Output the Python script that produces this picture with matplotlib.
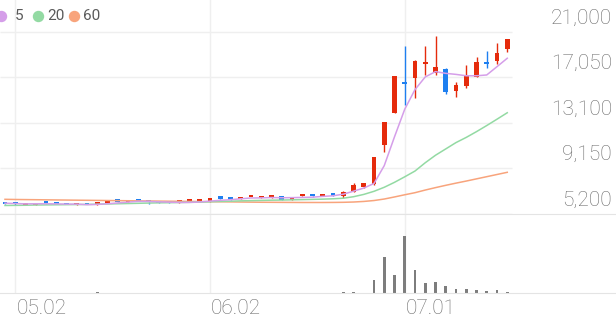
import matplotlib
matplotlib.use("Agg")
import matplotlib.pyplot as plt
from matplotlib.lines import Line2D
import numpy as np

# 일봉 데이터 (04.30 ~ 07.15)
open_ = [6180, 6120, 5980, 6000, 6170, 6100, 6010, 5990, 6000, 6000,
         6190, 6330, 6250, 6350, 6230, 6200, 6210, 6200, 6270, 6290,
         6270, 6590, 6680, 6500, 6660, 6600, 6640, 6740, 6400, 6740,
         6760, 6760, 6960, 6800, 7140, 7570, 7800, 11190, 13940, 16600,
         16980, 18180, 17410, 17760, 15880, 16310, 17130, 18420, 18490, 19520]
high = [6200, 6140, 6040, 6190, 6180, 6110, 6020, 6060, 6010, 6240,
        6320, 6340, 6380, 6360, 6260, 6210, 6220, 6260, 6380, 6340,
        6610, 6600, 6690, 6670, 6710, 6650, 6690, 6750, 6690, 6920,
        6770, 6810, 6970, 7160, 7870, 7930, 10180, 13220, 17210, 19780,
        18530, 19780, 20650, 17900, 16690, 18130, 18800, 19350, 20020, 20370]
low = [6060, 6020, 5970, 5990, 6100, 6030, 5940, 5960, 5940, 5990,
       6120, 6270, 6240, 6290, 6050, 6140, 6150, 6190, 6260, 6280,
       6260, 6530, 6440, 6490, 6650, 6590, 6630, 6390, 6390, 6730,
       6710, 6750, 6790, 6620, 7130, 7480, 7750, 10610, 13930, 14660,
       15260, 17270, 17270, 15620, 15380, 16110, 17050, 17850, 18200, 19290]
close = [6080, 6040, 6020, 6180, 6110, 6040, 5950, 6010, 5950, 6230,
         6310, 6280, 6370, 6300, 6200, 6150, 6160, 6250, 6290, 6330,
         6600, 6540, 6450, 6660, 6700, 6640, 6680, 6400, 6680, 6770,
         6720, 6800, 6800, 7150, 7720, 7920, 10170, 13210, 17200, 16500,
         18520, 18260, 17930, 15820, 16400, 17220, 18380, 18220, 19150, 20360]

ma5 = [6140, 6110, 6080, 6090, 6090, 6080, 6060, 6060, 6010, 6030,
       6090, 6160, 6230, 6300, 6290, 6260, 6230, 6200, 6210, 6240,
       6320, 6390, 6440, 6520, 6590, 6600, 6630, 6610, 6620, 6640,
       6660, 6730, 6780, 6920, 7180, 7450, 7850, 9400, 11900, 14300,
       16000, 17100, 17560, 17410, 17320, 17200, 17200, 17270, 17990, 18720]
ma20 = [5940, 5950, 5960, 5980, 5990, 6000, 6010, 6020, 6030, 6050,
        6070, 6090, 6110, 6130, 6150, 6170, 6180, 6200, 6210, 6230,
        6260, 6290, 6310, 6340, 6360, 6380, 6400, 6410, 6430, 6450,
        6470, 6490, 6520, 6570, 6700, 6900, 7170, 7520, 7950, 8430,
        8930, 9650, 10300, 10850, 11400, 11850, 12350, 12880, 13430, 13990]
ma60 = [6475, 6460, 6450, 6440, 6430, 6420, 6410, 6400, 6390, 6380,
        6370, 6360, 6350, 6340, 6330, 6320, 6310, 6300, 6290, 6280,
        6270, 6260, 6250, 6240, 6230, 6220, 6215, 6210, 6205, 6200,
        6200, 6200, 6205, 6215, 6240, 6290, 6370, 6500, 6680, 6870,
        7050, 7280, 7490, 7690, 7880, 8060, 8250, 8440, 8630, 8820]

volume = [60, 50, 40, 60, 40, 30, 40, 50, 40, 220,
          80, 50, 60, 40, 60, 40, 40, 40, 50, 40,
          80, 60, 60, 50, 40, 40, 40, 70, 60, 80,
          60, 60, 90, 200, 300, 150, 4000, 11000, 5300, 17300,
          6900, 3000, 3300, 2000, 1200, 1200, 1000, 700, 1000, 200]

price_ticks = [5200, 9150, 13100, 17050, 21000]
month_idx = [1, 20, 39]
month_labels = ["05.02", "06.02", "07.01"]
legend_labels = ["5", "20", "60"]

RED = "#e52b0c"
BLUE = "#1e7ff0"
MA_COLORS = ["#d59ee9", "#93daa3", "#f8a47c"]
GRID = "#efefef"
TXT = "#6a6a6a"

W, H = 616, 321
fig = plt.figure(figsize=(W / 100, H / 100), dpi=100)

def fx(px):
    return px / W

def fy(py):
    return 1 - py / H

ax = fig.add_axes([0, fy(214), 1, 214 / H])
vax = fig.add_axes([0, fy(293), 1, 79 / H])

n = len(close)
x = np.arange(n)
xl = (-5 / 10.25, (W - 5) / 10.25)

for a in (ax, vax):
    a.set_xlim(*xl)
    a.set_xticks([])
    a.set_yticks([])
    for s in a.spines.values():
        s.set_visible(False)
    for m in month_idx:
        a.axvline(m, color=GRID, lw=1, zorder=0)

ax.set_ylim(5200, 5200 + 214 * 15800 / 182)
ax.hlines(price_ticks, xl[0], n - 0.5, color=GRID, lw=1, zorder=0)

# 캔들
o = np.array(open_)
c = np.array(close)
colors = [RED if cc >= oo else BLUE for oo, cc in zip(o, c)]
ax.vlines(x, low, high, colors=colors, lw=1.0, zorder=2)
body = np.maximum(np.abs(c - o), 190)
ax.bar(x, body, bottom=np.minimum(o, c), width=0.48, color=colors, zorder=3)

for ma, col in zip([ma60, ma20, ma5], MA_COLORS[::-1]):
    ax.plot(x, ma, color=col, lw=1.1, zorder=4)

for t in price_ticks:
    ax.annotate(f"{t:,}", xy=(1, t), xycoords=("axes fraction", "data"),
                xytext=(-4, 14), textcoords="offset pixels",
                ha="right", va="center", fontsize=15, color=TXT,
                family="Roboto", fontweight="light")

# 거래량
vax.bar(x, volume, width=0.27, color="#7d7d7d", zorder=2)
vax.set_ylim(0, max(volume) * 79 / 57.3)
vax.spines["top"].set_visible(True)
vax.spines["bottom"].set_visible(True)
vax.spines["top"].set_color("#e4e4e4")
vax.spines["bottom"].set_color("#e4e4e4")

for m, lab in zip(month_idx, month_labels):
    px = 5 + 10.25 * m
    fig.text(fx(px + 1), fy(308), lab, ha="left", va="center", fontsize=15,
             color=TXT, family="Roboto", fontweight="light")

# 범례
dot_x = [1, 38, 73.5]
txt_x = [15, 47, 83]
for dx, tx, lab, col in zip(dot_x, txt_x, legend_labels, MA_COLORS):
    fig.add_artist(Line2D([fx(dx)], [fy(16)], marker="o", markersize=7.2,
                          color=col, lw=0, transform=fig.transFigure))
    fig.text(fx(tx), fy(16), lab, ha="left", va="center", fontsize=11,
             color="#5a5a5a", family="Roboto")

fig.savefig("out.png", dpi=100)
